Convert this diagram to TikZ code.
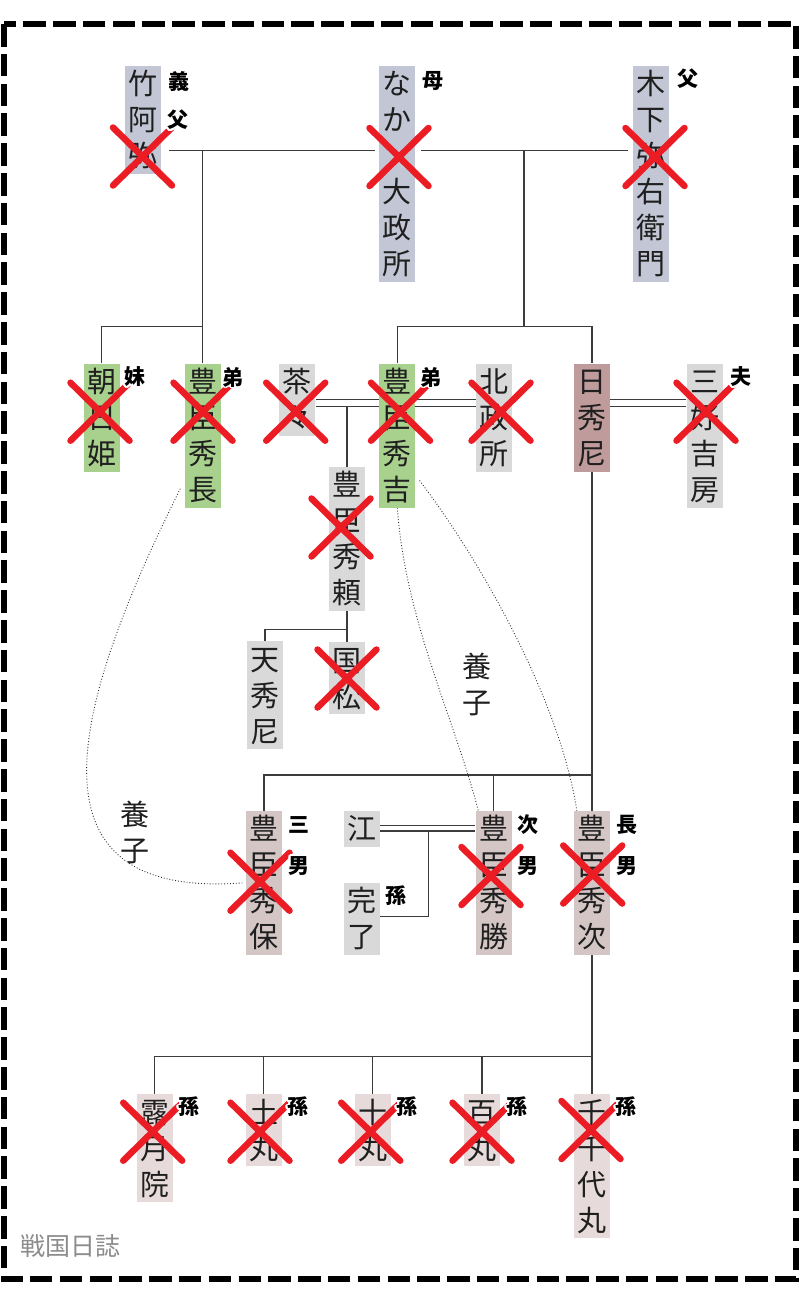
\documentclass[tikz,border=0pt]{standalone}
\usepackage{fontspec}
\newfontfamily\jp{Noto Sans CJK JP}
\usetikzlibrary{calc}
\pgfdeclarelayer{bg}
\pgfdeclarelayer{lines}
\pgfsetlayers{bg,lines,main}
\definecolor{cblue}{HTML}{C3C6D4}
\definecolor{cgreen}{HTML}{A9D18E}
\definecolor{cgray}{HTML}{D9D9D9}
\definecolor{cbrown}{HTML}{BF9B9B}
\definecolor{cpink}{HTML}{D5C6C6}
\definecolor{clight}{HTML}{E7DADA}
\definecolor{cred}{HTML}{EC1C24}
\definecolor{cline}{HTML}{3C3C3C}
\newcommand\sst{\rule[-7pt]{0pt}{36pt}}
\def\vt#1{\vtx#1\relax}
\def\vtx#1{\ifx\relax#1\else\sst#1\par\expandafter\vtx\fi}
\newcommand\xx[2]{\draw[xm,shift={(#1,#2)}] (-29.5,-29) -- (29.5,29) (-29.5,29) -- (29.5,-29);}
\newcommand\lbx[3]{%
  \foreach \aa in {0,22.5,...,337.5}{\node[tagw,shift={(\aa:1.8pt)}] at (#2) {#3};}
  \node[tagb] (#1) at (#2) {#3};}
\begin{document}
\begin{tikzpicture}[x=1pt,y=-1pt,
  bx/.style={anchor=north, inner sep=0pt, text width=36pt, align=center,
    font=\jp\fontsize{29}{36}\selectfont, text=black!88},
  yz/.style={bx},
  ln/.style={line width=1.3pt, draw=cline},
  dl/.style={line width=0.9pt, dotted, draw=black!80},
  xm/.style={line width=6.5pt, draw=cred, line cap=round},
  tagb/.style={font=\jp\bfseries\fontsize{21}{21}\selectfont, inner sep=0pt, text=black},
  tagw/.style={tagb, text=white}
]
\useasboundingbox (0,0) rectangle (800,1296);
\begin{pgfonlayer}{bg}
\fill[white] (0,0) rectangle (800,1296);
\end{pgfonlayer}

% junction coordinates
\coordinate (ya) at (0,150.7);
\coordinate (ja) at (202.5,150.7);
\coordinate (jb) at (524,150.7);
\coordinate (yb) at (0,326.7);
\coordinate (yd1) at (0,399.3);
\coordinate (yd2) at (0,406.3);
\coordinate (yc) at (0,629.3);
\coordinate (ye) at (0,775);
\coordinate (ye1) at (0,825.7);
\coordinate (ye2) at (0,830.9);
\coordinate (jk) at (428.5,830.9);
\coordinate (yk) at (0,916.7);
\coordinate (yf) at (0,1056.7);

% boxes
\node[bx,fill=cblue] (take) at (143,65.7) {\vt{竹阿弥}};
\node[bx,fill=cblue] (naka) at (397,65.7) {\vt{なか　大政所}};
\node[bx,fill=cblue] (kino) at (651,65.7) {\vt{木下弥右衛門}};

\node[bx,fill=cgreen] (asahi) at (101.5,363.3) {\vt{朝日姫}};
\node[bx,fill=cgreen] (hidenaga) at (202.5,363.3) {\vt{豊臣秀長}};
\node[bx,fill=cgray] (chacha) at (297.4,363.3) {\vt{茶々}};
\node[bx,fill=cgreen] (hideyoshi) at (397.4,363.3) {\vt{豊臣秀吉}};
\node[bx,fill=cgray] (kita) at (494.2,363.3) {\vt{北政所}};
\node[bx,fill=cbrown] (nisshu) at (592,363.3) {\vt{日秀尼}};
\node[bx,fill=cgray] (miyoshi) at (704.5,363.3) {\vt{三好吉房}};

\node[bx,fill=cgray] (hideyori) at (347,466.7) {\vt{豊臣秀頼}};
\node[bx,fill=cgray] (tenshu) at (265,641) {\vt{天秀尼}};
\node[bx,fill=cgray] (kuni) at (347,642) {\vt{国松}};

\node[bx,fill=cpink] (hideyasu) at (264,810.7) {\vt{豊臣秀保}};
\node[bx,fill=cgray] (go) at (362,810.7) {\vt{江}};
\node[bx,fill=cgray] (kanryo) at (362,882.5) {\vt{完了}};
\node[bx,fill=cpink] (hidekatsu) at (493.5,810.7) {\vt{豊臣秀勝}};
\node[bx,fill=cpink] (hidetsugu) at (592,810.7) {\vt{豊臣秀次}};

\node[bx,fill=clight] (tsuyu) at (154.5,1094) {\vt{露月院}};
\node[bx,fill=clight] (tsuchi) at (263.5,1094) {\vt{土丸}};
\node[bx,fill=clight] (ju) at (372.5,1094) {\vt{十丸}};
\node[bx,fill=clight] (hyaku) at (482,1094) {\vt{百丸}};
\node[bx,fill=clight] (sen) at (592,1094) {\vt{千千代丸}};

\node[yz] (yz1) at (477,648) {\vt{養子}};
\node[yz] (yz2) at (135,796) {\vt{養子}};

% connectors
\begin{pgfonlayer}{lines}
\draw[ln, shorten <=8pt, shorten >=4pt] (take.east|-ya) -- (naka.west|-ya);
\draw[ln, shorten <=6pt, shorten >=5pt] (naka.east|-ya) -- (kino.west|-ya);
\draw[ln] (ja) -- (ja|-yb);
\draw[ln] (asahi.north) |- (hidenaga.north|-yb) -- (hidenaga.north);
\draw[ln] (jb) -- (jb|-yb);
\draw[ln] (hideyoshi.north) |- (nisshu.north|-yb) -- (nisshu.north);
\draw[ln] (chacha.east|-yd1) -- (kita.west|-yd1) (chacha.east|-yd2) -- (kita.west|-yd2);
\draw[ln] (nisshu.east|-yd1) -- (miyoshi.west|-yd1) (nisshu.east|-yd2) -- (miyoshi.west|-yd2);
\draw[ln] (hideyori.north|-yd2) -- (hideyori.north);
\draw[ln] (hideyori.south) -- (kuni.north);
\draw[ln] (tenshu.north) |- (kuni.north|-yc);
\draw[ln] (nisshu.south) -- (hidetsugu.north);
\draw[ln] (hideyasu.north) |- (hidetsugu.north|-ye);
\draw[ln] (hidekatsu.north|-ye) -- (hidekatsu.north);
\draw[ln] (go.east|-ye1) -- (hidekatsu.west|-ye1) (go.east|-ye2) -- (hidekatsu.west|-ye2);
\draw[ln] (jk) |- (kanryo.east|-yk);
\draw[ln] (hidetsugu.south) -- (sen.north);
\draw[ln] (tsuyu.north) |- (sen.north|-yf);
\foreach \n in {tsuchi,ju,hyaku} \draw[ln] (\n.north) -- (\n.north|-yf);
\draw[dl] ($(hidenaga.south west)+(-4,-19)$) .. controls (75,700) and (15,900) .. ($(hideyasu.west)+(-3,0)$);
\draw[dl] (hideyoshi.south) .. controls (405,620) and (455,720) .. ($(hidekatsu.north west)+(3,0)$);
\draw[dl] ($(hideyoshi.east)+(4,45)$) .. controls (480,560) and (560,700) .. ($(hidetsugu.north west)+(3,0)$);
\end{pgfonlayer}

% crosses
\xx{142.5}{156.5}
\xx{399}{157}
\xx{655}{157}
\xx{100}{411.7}
\xx{203}{411.7}
\xx{295.7}{411.7}
\xx{400.5}{411.7}
\xx{501}{411.7}
\xx{706}{411.7}
\xx{341}{527.5}
\xx{347}{678.5}
\xx{260}{881.7}
\xx{491}{876}
\xx{592.7}{874.5}
\xx{152.7}{1131.7}
\xx{260}{1131.7}
\xx{370.7}{1131.7}
\xx{482}{1131.7}
\xx{591}{1130}

% relation labels
\lbx{la}{179,81}{義}
\lbx{lb}{178,120}{父}
\lbx{lc}{432.7,81}{母}
\lbx{ld}{687.7,79}{父}
\lbx{le}{135,377}{妹}
\lbx{lf}{233,377}{弟}
\lbx{lg}{431,377}{弟}
\lbx{lh}{741,377}{夫}
\lbx{li}{298.5,825}{三}
\lbx{lj}{298.5,866}{男}
\lbx{lk}{395.5,896}{孫}
\lbx{ll}{527.5,825}{次}
\lbx{lm}{527.5,866}{男}
\lbx{ln2}{626.5,825}{長}
\lbx{lo}{626.5,866}{男}
\lbx{lp}{189,1107}{孫}
\lbx{lq}{298,1107}{孫}
\lbx{lr}{407,1107}{孫}
\lbx{ls}{517,1107}{孫}
\lbx{lt}{626,1107}{孫}

% frame and footer
\draw[line width=6pt, dash pattern=on 22.5pt off 7.3pt, draw=black] (3.5,24) rectangle (796,1279);
\node[anchor=west, inner sep=0pt, text=black!45, font=\jp\fontsize{25}{25}\selectfont] (foot) at (20,1246) {戦国日誌};
\end{tikzpicture}
\end{document}
